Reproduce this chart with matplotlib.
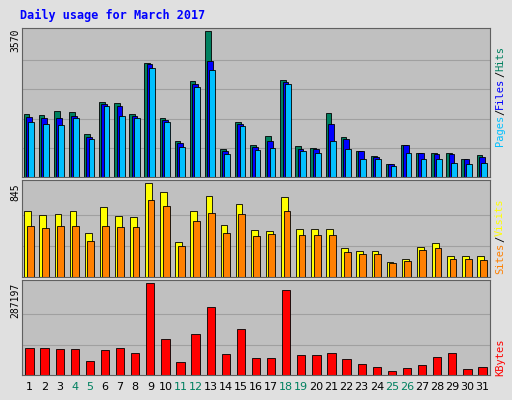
import matplotlib
matplotlib.use("Agg")
import matplotlib.pyplot as plt
import numpy as np

days = list(range(1, 32))
hits = [1544,1520,1616,1592,1061,1833,1809,1544,2798,1447,868,2340,3570,675,1351,772,1013,2364,748,700,1568,989,627,507,314,772,579,579,579,434,531]
files = [1471,1447,1447,1495,989,1785,1737,1495,2750,1399,820,2267,2846,627,1302,724,868,2316,675,675,1302,917,627,482,314,772,579,555,555,434,482]
pages = [1351,1302,1278,1447,917,1737,1495,1447,2653,1351,724,2195,2605,555,1254,651,700,2267,627,579,868,675,434,434,265,579,434,434,338,314,338]
visits = [588,560,569,588,395,624,551,542,845,762,312,588,725,468,652,422,413,716,431,431,431,257,230,230,138,165,266,303,184,184,184]
sites = [459,441,459,459,321,459,450,450,689,634,275,505,578,395,569,367,386,588,376,376,376,220,202,202,129,147,239,257,165,165,156]
kbytes = [83000,83000,80000,80000,45000,77000,83000,70000,287197,112000,41000,128000,211000,64000,144000,54000,54000,265000,61000,61000,70000,51000,35000,26000,13000,22000,32000,57000,70000,19000,26000]
weekends = [4,5,11,12,18,19,25,26]

W, H = 512, 400
fig = plt.figure(figsize=(5.12, 4.0), dpi=100, facecolor='#E0E0E0')
mono = 'DejaVu Sans Mono'

def ax_at(x0, y0, x1, y1):
    ax = fig.add_axes([x0/W, 1 - y1/H, (x1-x0)/W, (y1-y0)/H])
    ax.set_facecolor('#C0C0C0')
    ax.set_xlim(0.5, 31.5)
    ax.set_xticks([]); ax.set_yticks([])
    for s in ax.spines.values():
        s.set_color('#606060')
    return ax

x = np.array(days)
bw = 0.38
a1 = ax_at(22, 28, 490, 177)
a1.set_ylim(0, 3570*1.02)
for yy in [0.2, 0.4, 0.6, 0.8]:
    a1.axhline(3570*yy, color='#A0A0A0', lw=0.8, zorder=0)
a1.bar(x-0.2, hits, bw, color='#00805F', edgecolor='black', lw=0.6)
a1.bar(x-0.05, files, bw, color='#0000FF', edgecolor='black', lw=0.6)
a1.bar(x+0.10, pages, bw, color='#00C0FF', edgecolor='black', lw=0.6)

a2 = ax_at(22, 180, 490, 277)
a2.set_ylim(0, 845*1.03)
for yy in [0.33, 0.66]:
    a2.axhline(845*yy, color='#A0A0A0', lw=0.8, zorder=0)
a2.bar(x-0.12, visits, 0.45, color='#FFFF00', edgecolor='black', lw=0.6)
a2.bar(x+0.05, sites, 0.45, color='#FF8000', edgecolor='black', lw=0.6)

a3 = ax_at(22, 280, 490, 375)
a3.set_ylim(0, 287197*1.03)
for yy in [0.33, 0.66]:
    a3.axhline(287197*yy, color='#A0A0A0', lw=0.8, zorder=0)
a3.bar(x, kbytes, 0.55, color='#FF0000', edgecolor='black', lw=0.6)

for d in days:
    a3.text(d, -0.07, str(d), transform=a3.get_xaxis_transform(), ha='center', va='top',
            fontsize=8, color='#00805F' if d in weekends else 'black')

fig.text(20/W, 1-15/H, 'Daily usage for March 2017', color='#0000FF', fontsize=8.5,
         fontweight='bold', family=mono, va='center')
fig.text(15/W, 1-40/H, '3570', rotation=90, fontsize=7, family=mono, ha='center', va='center')
fig.text(15/W, 1-192/H, '845', rotation=90, fontsize=7, family=mono, ha='center', va='center')
fig.text(15/W, 1-300/H, '287197', rotation=90, fontsize=7, family=mono, ha='center', va='center')

def vlabel(parts, ycenter, fs=7.5):
    ch = 0.602 * fs * 100 / 72
    pieces = []
    for i, (p, c) in enumerate(parts):
        pieces.append((p, c))
        if i < len(parts) - 1:
            pieces.append(('/', 'black'))
    total = sum(len(p) for p, c in pieces)
    y = ycenter + total * ch / 2
    for p, c in pieces:
        fig.text(500/W, 1-y/H, p, rotation=90, fontsize=fs, family=mono, color=c,
                 ha='center', va='bottom')
        y -= len(p) * ch

vlabel([('Pages', '#00C0FF'), ('Files', '#0000FF'), ('Hits', '#00805F')], 96)
vlabel([('Sites', '#FF8000'), ('Visits', '#FFFF00')], 236)
vlabel([('KBytes', '#FF0000')], 357)

fig.savefig('out.png', dpi=100, facecolor=fig.get_facecolor())
